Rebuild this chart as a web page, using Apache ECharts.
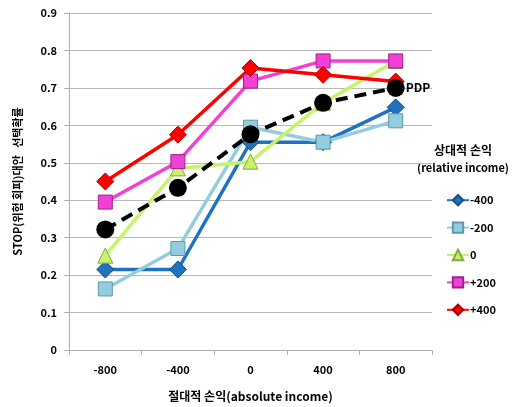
<!DOCTYPE html>
<html><head><meta charset="utf-8">
<script src="https://cdn.jsdelivr.net/npm/echarts@6/dist/echarts.min.js"></script>
<style>html,body{margin:0;padding:0;background:#fff}#c{width:513px;height:407px}</style>
</head><body><div id="c"></div>
<script>
const categories = ['-800', '-400', '0', '400', '800'];
const seriesNames = ['-400', '-200', '0', '+200', '+400'];
const vMinus400 = [0.215, 0.215, 0.555, 0.555, 0.648];
const vMinus200 = [0.163, 0.271, 0.595, 0.555, 0.612];
const vZero = [0.252, 0.485, 0.503, 0.66, 0.772];
const vPlus200 = [0.395, 0.503, 0.718, 0.772, 0.772];
const vPlus400 = [0.45, 0.575, 0.753, 0.735, 0.717];
const vPDP = [0.322, 0.433, 0.576, 0.66, 0.70];
const yTicks = [0, 0.1, 0.2, 0.3, 0.4, 0.5, 0.6, 0.7, 0.8, 0.9];

const FONT = '"Noto Sans CJK KR", "Noto Sans", sans-serif';
const chart = echarts.init(document.getElementById('c'), null, {renderer: 'canvas'});

function mk(name, data, color, symbol, size, borderColor) {
  return {
    name: name, type: 'line', data: data,
    symbol: symbol, symbolSize: size,
    lineStyle: {color: color, width: 3.5},
    itemStyle: {color: color, borderColor: borderColor, borderWidth: 1},
    z: 3
  };
}

const option = {
  animation: false,
  textStyle: {fontFamily: FONT},
  grid: {left: 69, right: 81, top: 13, bottom: 52},
  xAxis: {
    type: 'category', data: categories, boundaryGap: true,
    axisLine: {lineStyle: {color: '#b0b0b0'}},
    axisTick: {show: true, length: 5, lineStyle: {color: '#b0b0b0'}},
    axisLabel: {color: '#000', fontWeight: 'bold', fontSize: 11, margin: 14, fontFamily: FONT},
    name: '절대적 손익(absolute income)', nameLocation: 'middle', nameGap: 40,
    nameTextStyle: {color: '#000', fontWeight: 'bold', fontSize: 12, fontFamily: FONT}
  },
  yAxis: {
    type: 'value', min: 0, max: 0.9, interval: 0.1,
    axisLine: {show: true, lineStyle: {color: '#b0b0b0'}},
    axisTick: {show: true, length: 5, lineStyle: {color: '#b0b0b0'}},
    splitLine: {lineStyle: {color: '#b8b8b8', width: 1}},
    axisLabel: {color: '#000', fontWeight: 'bold', fontSize: 11, margin: 12, fontFamily: FONT,
      formatter: v => { const t = yTicks.find(x => Math.abs(x - v) < 1e-6); return t === 0 ? '0' : String(t); }},
    name: 'STOP(위험 회피)대안   선택확률', nameLocation: 'middle', nameGap: 46, nameRotate: 90,
    nameTextStyle: {color: '#000', fontWeight: 'bold', fontSize: 11, fontFamily: FONT}
  },
  legend: {
    data: seriesNames, orient: 'vertical', left: 441, top: 189, itemGap: 15,
    itemWidth: 22, itemHeight: 13,
    textStyle: {color: '#000', fontSize: 11, fontWeight: 'bold', fontFamily: FONT, padding: [0, 0, 0, -4]}
  },
  graphic: [
    {type: 'text', x: 463, y: 144, style: {text: '상대적 손익', fill: '#000', font: 'bold 12px ' + FONT, textAlign: 'center'}},
    {type: 'text', x: 463, y: 162, style: {text: '(relative income)', fill: '#000', font: 'bold 11px ' + FONT, textAlign: 'center'}}
  ],
  series: [
    mk('-400', vMinus400, '#1f72bd', 'diamond', 17, '#155080'),
    mk('-200', vMinus200, '#93cddd', 'rect', 14, '#5a9aaa'),
    mk('0', vZero, '#c6f26c', 'triangle', 15, '#8aa840'),
    mk('+200', vPlus200, '#f23fd6', 'rect', 14, '#a0208c'),
    mk('+400', vPlus400, '#ff0000', 'diamond', 17, '#a00000'),
    {
      name: 'PDP', type: 'line', data: vPDP, symbol: 'circle', symbolSize: 18,
      lineStyle: {color: '#000', width: 4, type: [12, 7]},
      itemStyle: {color: '#000'}, z: 4,
      endLabel: {show: true, formatter: 'PDP', color: '#000', fontWeight: 'bold', fontSize: 12, fontFamily: FONT, distance: 10}
    }
  ]
};
chart.setOption(option);
</script></body></html>
